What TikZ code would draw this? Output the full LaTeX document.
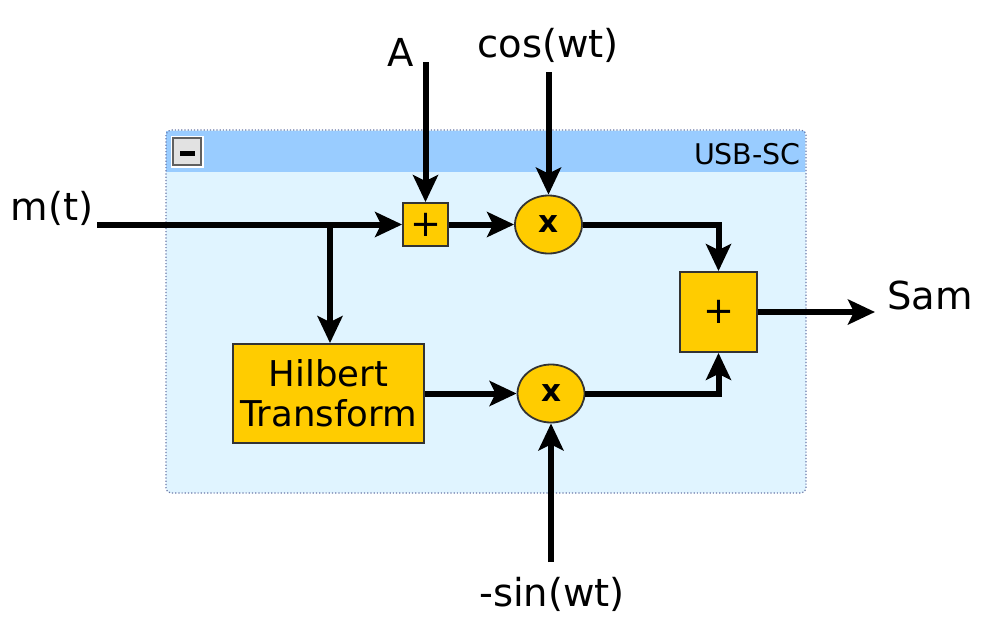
\documentclass[tikz,border=0pt]{standalone}
\usepackage{fontspec}
\setmainfont{DejaVu Sans}
\usetikzlibrary{arrows.meta,shapes.geometric}
\definecolor{blockfill}{HTML}{FFCC00}
\definecolor{blockdraw}{HTML}{333333}
\definecolor{headblue}{HTML}{99CCFF}
\definecolor{bodyblue}{HTML}{E0F4FF}
\definecolor{bordercol}{HTML}{6A78A8}
\definecolor{iconfill}{HTML}{E2E2E2}
\definecolor{icondraw}{HTML}{606060}
\tikzset{
  blockbase/.style={draw=blockdraw, fill=blockfill, line width=1.8pt, inner sep=0pt},
  sumsmall/.style={blockbase, rectangle, minimum width=45pt, minimum height=43pt, font=\fontsize{37}{40}\selectfont},
  sumbig/.style={blockbase, rectangle, minimum width=77pt, minimum height=80pt, font=\fontsize{37}{40}\selectfont},
  hilbox/.style={blockbase, rectangle, minimum width=191pt, minimum height=99pt, align=center, font=\fontsize{35.5}{40}\selectfont},
  mult/.style={blockbase, ellipse, minimum width=67pt, minimum height=58pt, font=\fontsize{31}{36}\selectfont\bfseries},
  lbl/.style={inner sep=0pt, font=\fontsize{38.5}{44}\selectfont},
  sig/.style={line width=6pt, -{Stealth[length=27pt,width=25pt,inset=6pt]}}
}
\begin{document}
\begin{tikzpicture}[x=1pt,y=-1pt]
\useasboundingbox (0,0) rectangle (985,622);
% container
\fill[bodyblue, rounded corners=5pt] (166,130) rectangle (806,493);
\fill[headblue] (166,131) rectangle (805,172);
\draw[bordercol, line width=1.2pt, dotted, rounded corners=5pt] (166,130) rectangle (806,493);
% collapse icon
\fill[white] (171,136) rectangle (204,168);
\draw[icondraw, fill=iconfill, line width=2.2pt] (173,138) rectangle (201,165);
\fill[black] (180,150.5) rectangle (195,155.5);
\node[anchor=east, inner sep=0pt, font=\fontsize{28.5}{32}\selectfont] (title) at (801,154) {USB-SC};
% blocks
\node[sumsmall] (add1) at (425.5,224.5) {+};
\node[mult] (mul1) at (548.5,224.5) {\raisebox{1pt}{x}};
\node[sumbig] (add2) at (718.5,312) {+};
\node[hilbox] (hil) at (328.5,393.5) {Hilbert\\Transform};
\node[mult] (mul2) at (551,393.5) {\raisebox{1pt}{x}};
% labels
\node[lbl] (mt) at (52,208) {m(t)};
\node[lbl] (A) at (401,52) {A};
\node[lbl] (cos) at (548,45) {cos(wt)};
\node[lbl] (sin) at (552,594) {-sin(wt)};
\node[lbl] (sam) at (930,295) {Sam};
\coordinate (mstart) at (97,224.5);
\coordinate (branch) at (330,224.5);
\coordinate (Astart) at (425.5,62);
\coordinate (cstart) at (548.5,72);
\coordinate (sstart) at (551,562);
\coordinate (samend) at (875,312);
% connectors
\draw[sig] (mstart) -- (add1.west);
\draw[sig] (branch) -- (hil.north -| branch);
\draw[sig] (Astart) -- (add1.north);
\draw[sig] (cstart) -- (mul1.north);
\draw[sig] (add1.east) -- (mul1.west);
\draw[sig] (mul1.east) -| (add2.north);
\draw[sig] (hil.east) -- (mul2.west);
\draw[sig] (mul2.east) -| (add2.south);
\draw[sig] (sstart) -- (mul2.south);
\draw[sig] (add2.east) -- (samend);
\end{tikzpicture}
\end{document}
